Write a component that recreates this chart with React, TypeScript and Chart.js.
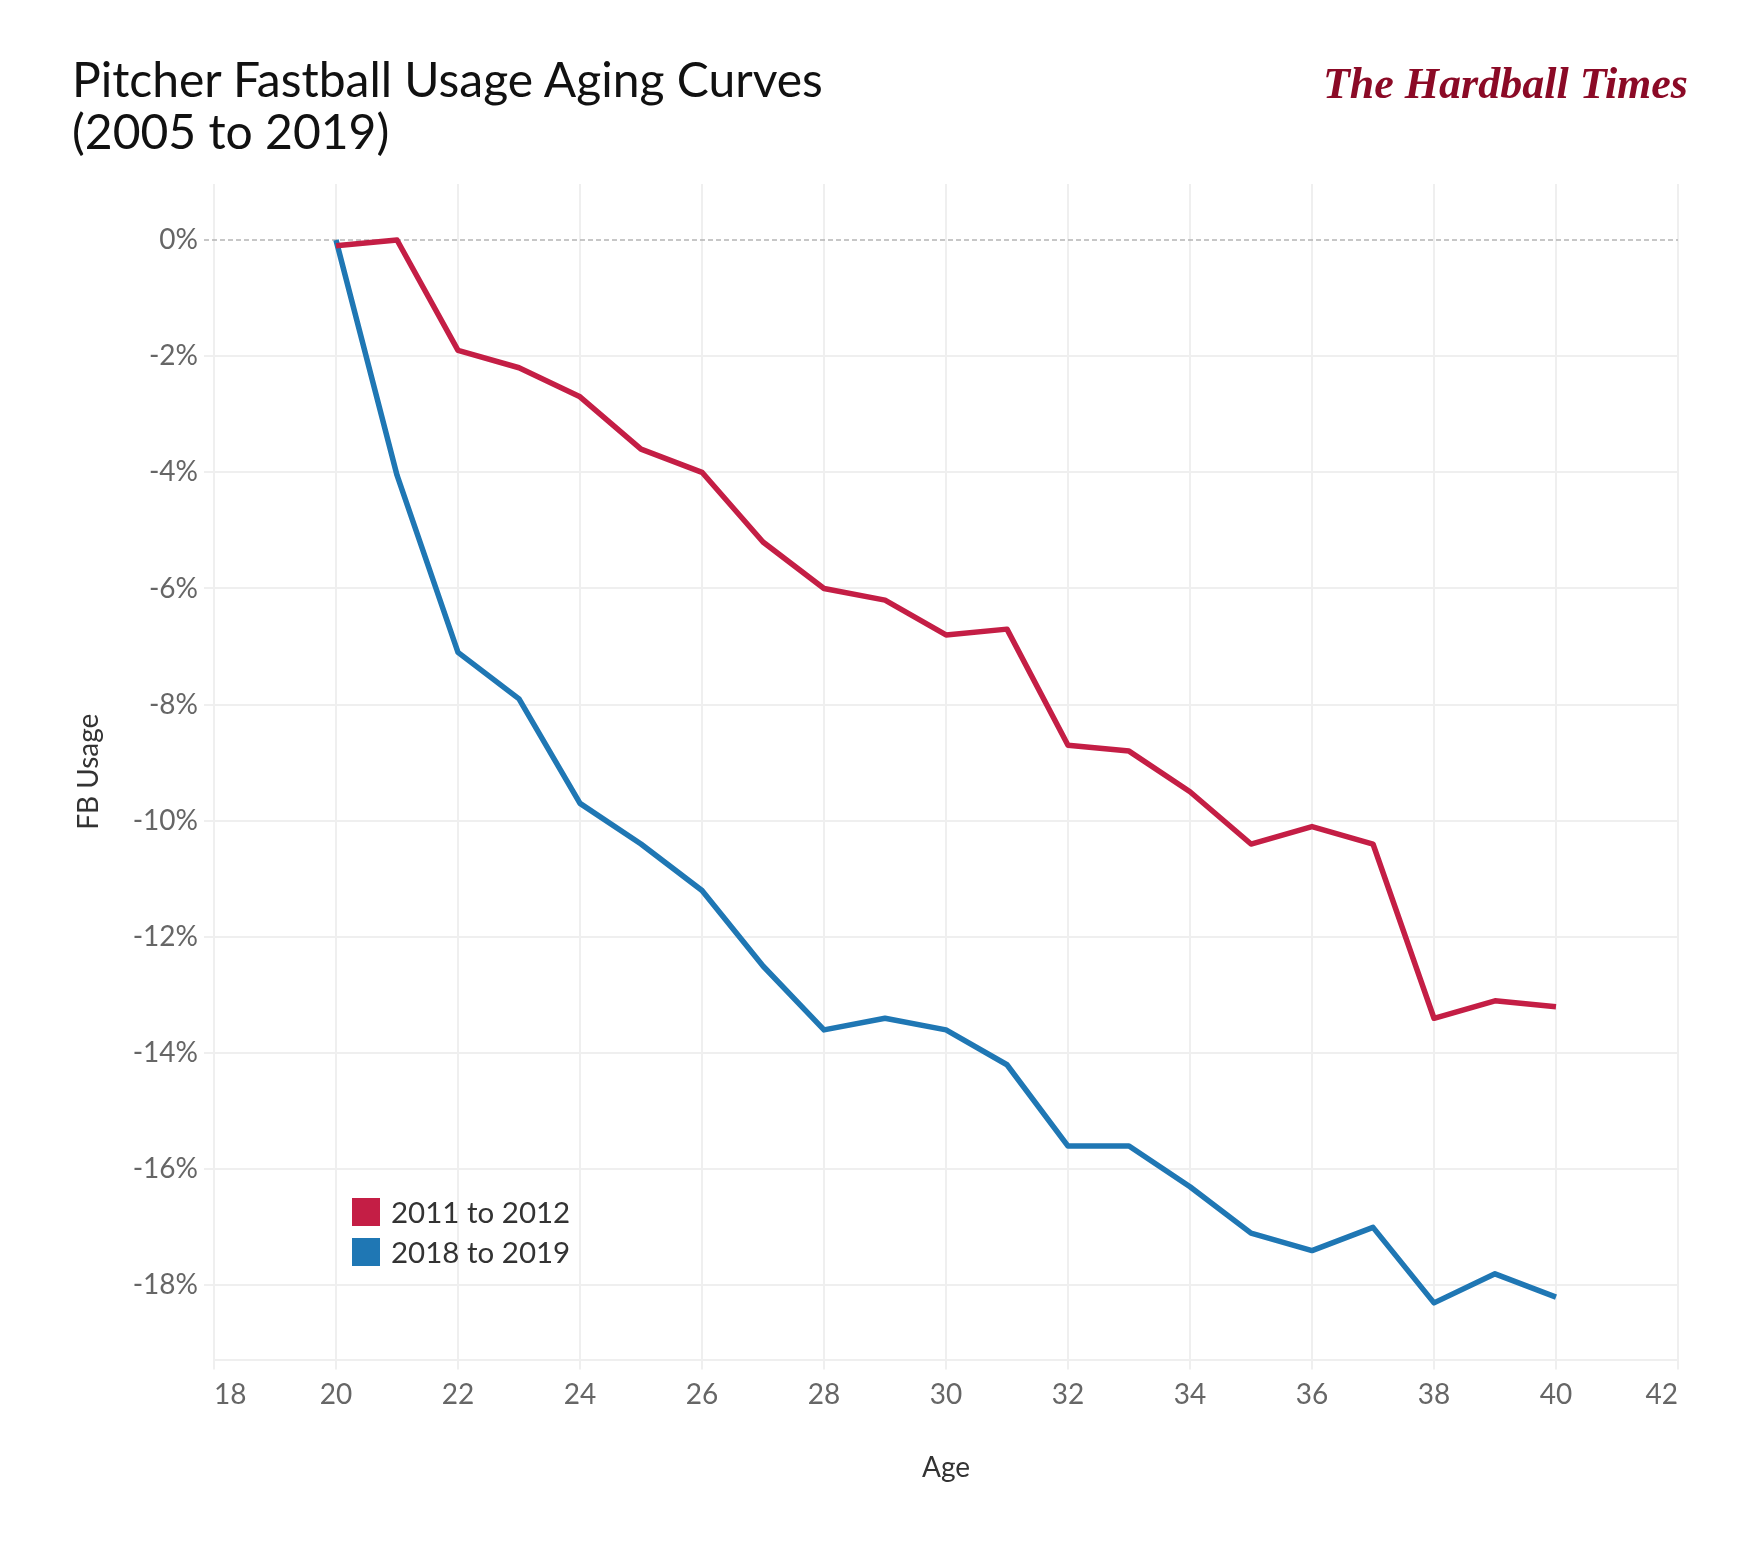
import React, { useEffect, useRef } from 'react';
import { Chart, registerables } from 'chart.js';

Chart.register(...registerables);

const ages = [20, 21, 22, 23, 24, 25, 26, 27, 28, 29, 30, 31, 32, 33, 34, 35, 36, 37, 38, 39, 40];
const usage2011to2012 = [-0.1, 0.0, -1.9, -2.2, -2.7, -3.6, -4.0, -5.2, -6.0, -6.2, -6.8, -6.7, -8.7, -8.8, -9.5, -10.4, -10.1, -10.4, -13.4, -13.1, -13.2];
const usage2018to2019 = [0.0, -4.05, -7.1, -7.9, -9.7, -10.4, -11.2, -12.5, -13.6, -13.4, -13.6, -14.2, -15.6, -15.6, -16.3, -17.1, -17.4, -17.0, -18.3, -17.8, -18.2];
const seriesLabels = ['2011 to 2012', '2018 to 2019'];
const seriesColors = ['#C41E45', '#1F77B4'];

const GRID = '#EFEFEF';

// dashed reference line at 0%, including its tick mark
const zeroLine = {
  id: 'zeroLine',
  beforeDatasetsDraw(chart: any) {
    const { ctx, chartArea, scales } = chart;
    const y = scales.y.getPixelForValue(0);
    ctx.save();
    ctx.strokeStyle = '#B5B5B5';
    ctx.lineWidth = 1.5;
    ctx.setLineDash([5, 3]);
    ctx.beginPath();
    ctx.moveTo(chartArea.left - 10, y);
    ctx.lineTo(chartArea.right, y);
    ctx.stroke();
    ctx.restore();
  },
};

const App = () => {
  const chartRef = useRef<HTMLCanvasElement>(null);
  const chartInstance = useRef<Chart<'line'>>();

  useEffect(() => {
    if (chartInstance.current) {
      chartInstance.current.destroy();
    }
    const ctx = chartRef.current?.getContext('2d');
    if (!ctx) return;

    Chart.defaults.font.family = 'Lato';

    const series = [usage2011to2012, usage2018to2019];

    chartInstance.current = new Chart(ctx, {
      type: 'line',
      data: {
        datasets: series.map((vals, i) => ({
          label: seriesLabels[i],
          data: ages.map((a, j) => ({ x: a, y: vals[j] })),
          borderColor: seriesColors[i],
          backgroundColor: seriesColors[i],
          borderWidth: 5.5,
          pointRadius: 0,
          tension: 0,
          borderJoinStyle: 'round' as const,
        })),
      },
      options: {
        animation: false,
        responsive: false,
        devicePixelRatio: 1,
        layout: { padding: { left: 0, right: 72, top: 184, bottom: 58.5 } },
        plugins: {
          legend: { display: false },
          tooltip: { enabled: false },
        },
        scales: {
          x: {
            type: 'linear',
            min: 18,
            max: 42,
            afterFit: (s: any) => {
              s.height = 150;
            },
            ticks: {
              stepSize: 2,
              align: 'inner',
              color: '#666666',
              font: { size: 28 },
              padding: 9,
              maxRotation: 0,
            },
            grid: { color: GRID, lineWidth: 2, tickLength: 10 },
            border: { display: true, color: GRID, width: 2 },
            title: {
              display: true,
              text: 'Age',
              color: '#333333',
              font: { size: 28 },
              padding: { top: 0, bottom: 25 },
            },
          },
          y: {
            min: -19.275,
            max: 0.964,
            afterFit: (s: any) => {
              s.width = 214;
            },
            ticks: {
              stepSize: 2,
              includeBounds: false,
              color: '#666666',
              font: { size: 28 },
              padding: 6,
              callback: (v: any) => `${v}%`,
            },
            grid: {
              color: (c: any) => (c.tick && c.tick.value === 0 ? 'rgba(0,0,0,0)' : GRID),
              tickColor: (c: any) => (c.tick && c.tick.value === 0 ? 'rgba(0,0,0,0)' : GRID),
              lineWidth: 2,
              tickLength: 10,
            },
            border: { display: false },
            title: {
              display: true,
              text: 'FB Usage',
              color: '#333333',
              font: { size: 28 },
              padding: { top: 72, bottom: 0 },
            },
          },
        },
      },
      plugins: [zeroLine],
    });

    return () => {
      if (chartInstance.current) {
        chartInstance.current.destroy();
      }
    };
  }, []);

  return (
    <div style={{ position: 'absolute', left: 0, top: 0, width: 1750, height: 1568, background: '#fff', fontFamily: 'Lato' }}>
      <canvas ref={chartRef} width={1750} height={1568} style={{ position: 'absolute', left: 0, top: 0, width: 1750, height: 1568 }} />
      <div style={{ position: 'absolute', left: 72, top: 53, fontSize: 48, lineHeight: '52px', color: '#111' }}>
        Pitcher Fastball Usage Aging Curves
        <br />
        (2005 to 2019)
      </div>
      <div
        style={{
          position: 'absolute',
          right: 62,
          top: 58,
          fontFamily: '"Liberation Serif"',
          fontStyle: 'italic',
          fontWeight: 'bold',
          fontSize: 44,
          color: '#8B0A26',
          whiteSpace: 'nowrap',
        }}
      >
        The Hardball Times
      </div>
      <div style={{ position: 'absolute', left: 352, top: 1198 }}>
        {seriesLabels.map((lbl, i) => (
          <div key={lbl} style={{ display: 'flex', alignItems: 'center', height: 28, marginBottom: 12 }}>
            <div style={{ width: 28, height: 28, background: seriesColors[i] }} />
            <span style={{ marginLeft: 11, fontSize: 29.5, color: '#333', lineHeight: '28px' }}>{lbl}</span>
          </div>
        ))}
      </div>
    </div>
  );
};

export default App;
